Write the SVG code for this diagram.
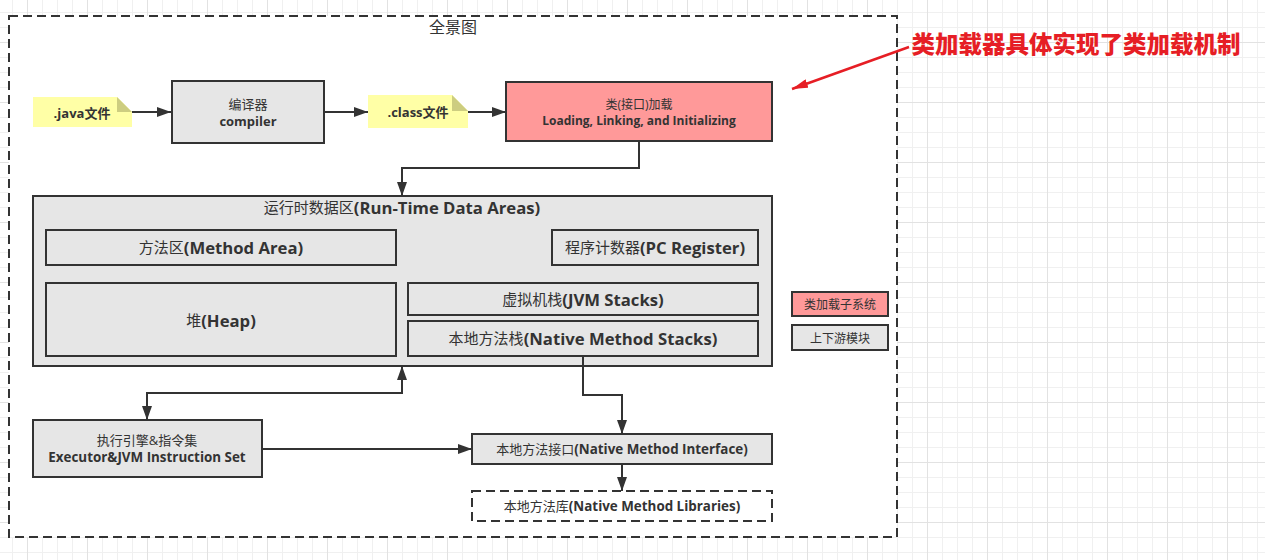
<svg xmlns="http://www.w3.org/2000/svg" width="1265" height="560" viewBox="0 0 1265 560">
<style>
.box{fill:#e6e6e6;stroke:#333;stroke-width:2}
.red{fill:#ff9999;stroke:#333;stroke-width:2}
.dash{fill:#fff;stroke:#333;stroke-width:2;stroke-dasharray:9 5}
.note{fill:#ffffa6}
.fold{fill:#cdcd80}
.t{font-family:"Open Sans","Noto Sans CJK SC",sans-serif;fill:#333;text-anchor:middle;dominant-baseline:central}
.b{font-weight:bold}
.n{font-weight:normal}
.s12{font-size:12px}
.s13{font-size:13px}
.s15{font-size:15px}
.L15{font-size:16.7px;font-weight:bold}
.L13{font-size:13.4px;font-weight:bold}
.edge{fill:none;stroke:#333;stroke-width:2}
</style>
<defs>
<pattern id="grid" patternUnits="userSpaceOnUse" x="27" y="42" width="60" height="60">
<rect x="0" y="0" width="60" height="60" fill="#fff"/>
<path d="M15.5,0V60M30.5,0V60M45.5,0V60M0,15.5H60M0,30.5H60M0,45.5H60" stroke="#f0f0f0" stroke-width="1"/>
<path d="M0.5,0V60M0,0.5H60" stroke="#e2e2e2" stroke-width="1"/>
</pattern>
<marker id="arr" markerUnits="userSpaceOnUse" markerWidth="14" markerHeight="10" refX="14" refY="5" orient="auto-start-reverse">
<path d="M0,0 L14,5 L0,10 z" fill="#333"/>
</marker>
<marker id="rarr" markerUnits="userSpaceOnUse" markerWidth="16" markerHeight="9" refX="16" refY="4.5" orient="auto">
<path d="M0,0 L16,4.5 L0,9 z" fill="#e61e25"/>
</marker>
</defs>
<rect x="0" y="0" width="1265" height="560" fill="url(#grid)"/>

<g id="container">
<rect x="9" y="16" width="888" height="521" class="dash"/>
<text x="453" y="27" class="t" style="font-size:16px">全景图</text>
</g>

<g id="java-file">
<path class="note" d="M33,97 H117 L132,112 V127 H33 Z"/>
<path class="fold" d="M117,97 L132,112 H117 Z"/>
<text x="82" y="113" class="t s13 b">.java文件</text>
</g>

<g id="compiler">
<rect x="172" y="81" width="152" height="62" class="box"/>
<text x="248" y="104" class="t s13">编译器</text>
<text x="248" y="121" class="t s13 b">compiler</text>
</g>

<g id="class-file">
<path class="note" d="M368,95 H452 L468,111 V128 H368 Z"/>
<path class="fold" d="M452,95 L468,111 H452 Z"/>
<text x="418" y="112" class="t s13 b">.class文件</text>
</g>

<g id="class-loading">
<rect x="506" y="82" width="266" height="59" class="red"/>
<text x="639" y="104" class="t s12">类(接口)加载</text>
<text x="639" y="120" class="t s12 b">Loading, Linking, and Initializing</text>
</g>

<g id="annotation">
<text x="1076" y="43" style="font-family:'Noto Sans CJK SC',sans-serif;font-size:23.5px;font-weight:900;fill:#e61e25;text-anchor:middle;dominant-baseline:central">类加载器具体实现了类加载机制</text>
</g>

<g id="runtime-data-areas">
<rect x="33" y="196" width="739" height="170" class="box"/>
<text x="402" y="207" class="t s15"><tspan class="n">运行时数据区</tspan><tspan class="L15">(Run-Time Data Areas)</tspan></text>
</g>

<g id="method-area">
<rect x="46" y="230" width="350" height="35" class="box"/>
<text x="221" y="247" class="t s15"><tspan class="n">方法区</tspan><tspan class="L15">(Method Area)</tspan></text>
</g>

<g id="pc-register">
<rect x="552" y="230" width="206" height="35" class="box"/>
<text x="655" y="247" class="t s15"><tspan class="n">程序计数器</tspan><tspan class="L15">(PC Register)</tspan></text>
</g>

<g id="heap">
<rect x="46" y="283" width="350" height="73" class="box"/>
<text x="221" y="320" class="t s15"><tspan class="n">堆</tspan><tspan class="L15">(Heap)</tspan></text>
</g>

<g id="jvm-stacks">
<rect x="408" y="283" width="350" height="32" class="box"/>
<text x="583" y="299" class="t s15"><tspan class="n">虚拟机栈</tspan><tspan class="L15">(JVM Stacks)</tspan></text>
</g>

<g id="native-method-stacks">
<rect x="408" y="321" width="350" height="35" class="box"/>
<text x="583" y="338" class="t s15"><tspan class="n">本地方法栈</tspan><tspan class="L15">(Native Method Stacks)</tspan></text>
</g>

<g id="legend-loader">
<rect x="792" y="292" width="96" height="24" class="red"/>
<text x="840" y="304" class="t s12">类加载子系统</text>
</g>

<g id="legend-module">
<rect x="792" y="325" width="96" height="25" class="box"/>
<text x="840" y="338" class="t s12">上下游模块</text>
</g>

<g id="executor">
<rect x="33" y="420" width="229" height="57" class="box"/>
<text x="147" y="440" class="t s13">执行引擎&amp;指令集</text>
<text x="147" y="457" class="t L13">Executor&amp;JVM Instruction Set</text>
</g>

<g id="native-method-interface">
<rect x="472" y="434" width="300" height="30" class="box"/>
<text x="622" y="449" class="t s13"><tspan class="n">本地方法接口</tspan><tspan class="L13">(Native Method Interface)</tspan></text>
</g>

<g id="native-method-libraries">
<rect x="472" y="491" width="300" height="30" class="dash"/>
<text x="622" y="506" class="t s13"><tspan class="n">本地方法库</tspan><tspan class="L13">(Native Method Libraries)</tspan></text>
</g>

<g id="connectors">
<path class="edge" d="M132,112 H171" marker-end="url(#arr)"/>
<path class="edge" d="M324,112 H368" marker-end="url(#arr)"/>
<path class="edge" d="M468,112 H506" marker-end="url(#arr)"/>
<path class="edge" d="M639,141 V168 H402 V196" marker-end="url(#arr)"/>
<path class="edge" d="M147,420 V393 H402 V366" marker-start="url(#arr)" marker-end="url(#arr)"/>
<path class="edge" d="M262,449 H472" marker-end="url(#arr)"/>
<path class="edge" d="M583,356 V395 H622 V434" marker-end="url(#arr)"/>
<path class="edge" d="M622,464 V491" marker-end="url(#arr)"/>
<path d="M909,47 L792,89" fill="none" stroke="#e61e25" stroke-width="2.5" marker-end="url(#rarr)"/>
</g>
</svg>
